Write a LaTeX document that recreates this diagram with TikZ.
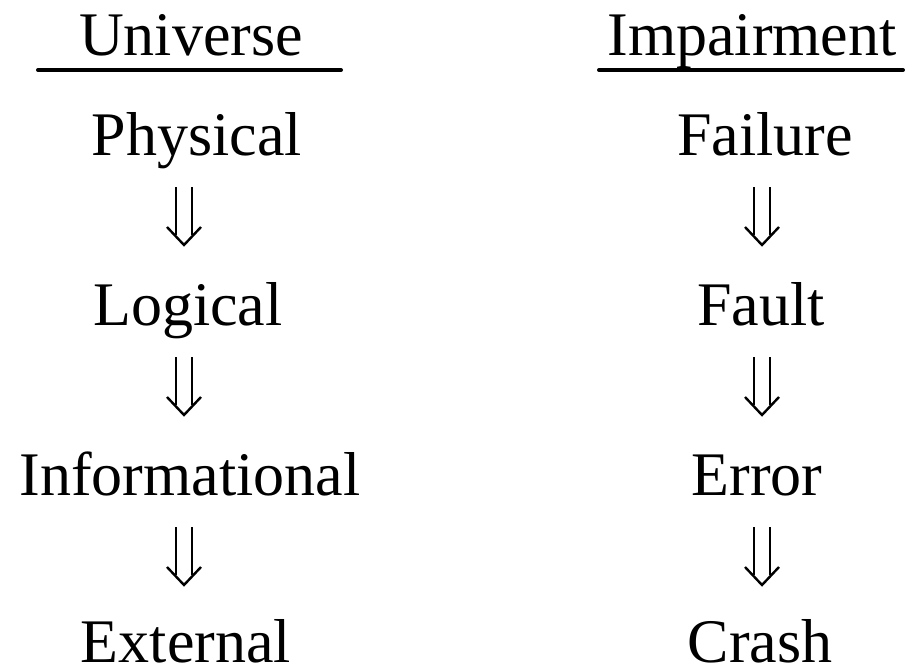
\documentclass[tikz,border=0pt]{standalone}
\usepackage{fontspec}
\setmainfont{Liberation Serif}
\begin{document}
\begin{tikzpicture}[x=1pt,y=-1pt,
  lbl/.style={anchor=base,inner sep=0pt,font=\fontsize{62}{70}\selectfont},
  lastlbl/.style={lbl,text depth=0pt},
  rulebar/.style={line width=4pt,line cap=round},
  downarr/.pic={
    \draw[line width=2.4pt] (-8,-29) -- (-8,19);
    \draw[line width=2.4pt] (8,-29) -- (8,19);
    \draw[line width=2.4pt,line join=miter] (-17,11) -- (0,29) -- (17,11);
  }]
\useasboundingbox (0,0) rectangle (905,670);
% headers
\node[lbl] (hU) at (191,55) {Universe};
\node[lbl] (hI) at (752,55) {Impairment};
\coordinate (uL) at (38,70); \coordinate (uR) at (341,70);
\coordinate (iL) at (599,70); \coordinate (iR) at (903,70);
\draw[rulebar] (uL) -- (uR);
\draw[rulebar] (iL) -- (iR);
% left column
\node[lbl] (phys) at (197,155) {Physical};
\node[lbl] (log) at (188,325) {Logical};
\node[lbl] (info) at (190,495) {Informational};
\node[lastlbl] (ext) at (186,662) {External};
% right column
\node[lbl] (fail) at (765,155) {Failure};
\node[lbl] (fault) at (761,325) {Fault};
\node[lbl] (err) at (757,495) {Error};
\node[lastlbl] (crash) at (760,662) {Crash};
% arrows
\pic at (184,216) {downarr};
\pic at (184,386) {downarr};
\pic at (184,556) {downarr};
\pic at (762,216) {downarr};
\pic at (762,386) {downarr};
\pic at (762,556) {downarr};
\end{tikzpicture}
\end{document}
